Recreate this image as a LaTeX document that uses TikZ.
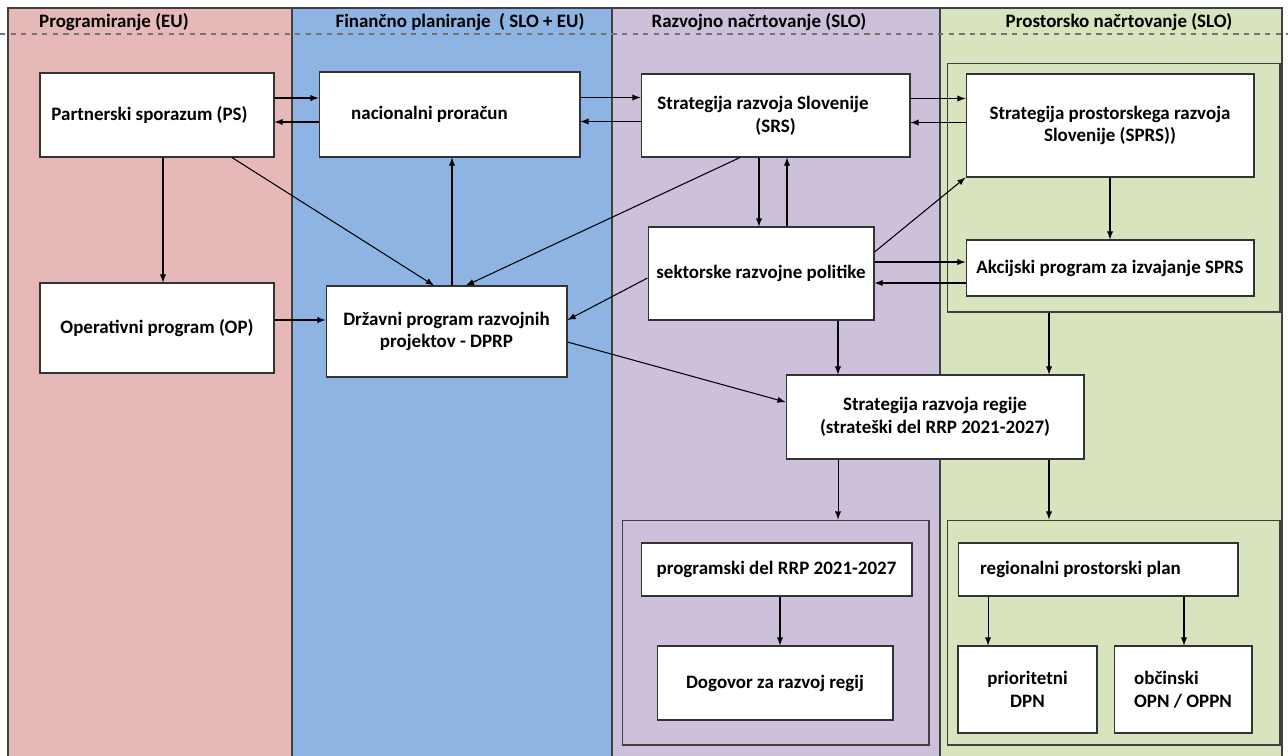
\documentclass[tikz,border=0pt]{standalone}
\usepackage{fontspec}
\setmainfont{Carlito}
\definecolor{roza}{HTML}{E6B9B8}
\definecolor{modra}{HTML}{8DB4E2}
\definecolor{vijola}{HTML}{CCC0DA}
\definecolor{zelena}{HTML}{D7E4BD}
\begin{document}
\begin{tikzpicture}[x=0.02cm,y=-0.02cm,>=latex,
  blok/.style={draw=black!80,fill=white,line width=0.6pt,inner sep=0pt,align=center,
    font=\bfseries\fontsize{10.8}{13}\selectfont},
  okvir/.style={draw=black!75,line width=0.6pt,inner sep=0pt},
  glava/.style={inner sep=0pt,font=\bfseries\fontsize{10.8}{13}\selectfont},
  pus/.style={->,line width=0.6pt}]
\useasboundingbox (0,0) rectangle (1288,755);
\foreach \xa/\xb/\barva in {8/292/roza,292/612/modra,612/940/vijola,940/1282/zelena}{\draw[okvir,fill=\barva](\xa,8) rectangle (\xb,760);}
\draw[black!55,dashed,line width=0.6pt](0,34)--(1288,34);
\node[glava] (h1) at (114,22) {Programiranje (EU)};
\node[glava] (h2) at (460,22) {Finančno planiranje~ ( SLO + EU)};
\node[glava] (h3) at (759,22) {Razvojno načrtovanje (SLO)};
\node[glava] (h4) at (1119,22) {Prostorsko načrtovanje (SLO)};
% okvirji
\node[okvir,minimum width=6.66cm,minimum height=4.98cm] (prostor) at (1113.5,187.5) {};
\node[okvir,minimum width=6.14cm,minimum height=4.5cm] (rrp) at (775.5,632.5) {};
\node[okvir,minimum width=6.66cm,minimum height=4.5cm] (rpp) at (1113.5,632.5) {};
% bloki
\node[blok,minimum width=4.68cm,minimum height=1.68cm] (ps) at (157,115) {Partnerski sporazum (PS)\hspace*{0.3cm}};
\node[blok,minimum width=5.22cm,minimum height=1.70cm] (np) at (449.5,114.5) {nacionalni proračun\hspace*{0.8cm}};
\node[blok,minimum width=5.38cm,minimum height=1.66cm] (srs) at (775.5,115.5) {Strategija razvoja Slovenije\hspace*{0.5cm}\\(SRS)};
\node[blok,minimum width=5.76cm,minimum height=2.06cm] (sprs) at (1110,125.5) {Strategija prostorskega razvoja\\Slovenije (SPRS))};
\node[blok,minimum width=5.76cm,minimum height=1.12cm] (akc) at (1110,268) {Akcijski program za izvajanje SPRS};
\node[blok,minimum width=4.52cm,minimum height=1.86cm] (sekt) at (761,273.5) {sektorske razvojne politike};
\node[blok,minimum width=4.68cm,minimum height=1.80cm] (op) at (157,328) {Operativni program (OP)};
\node[blok,minimum width=4.82cm,minimum height=1.82cm] (dprp) at (446.5,331.5) {Državni program razvojnih\\projektov - DPRP};
\node[blok,minimum width=5.96cm,minimum height=1.68cm] (srr) at (935,417) {Strategija razvoja regije\\(strateški del RRP 2021-2027)};
\node[blok,minimum width=5.42cm,minimum height=1.06cm] (prog) at (776.5,569.5) {programski del RRP 2021-2027};
\node[blok,minimum width=4.72cm,minimum height=1.48cm] (dog) at (775,683) {Dogovor za razvoj regij};
\node[blok,minimum width=5.60cm,minimum height=1.06cm] (reg) at (1098,569.5) {regionalni prostorski plan\hspace*{0.7cm}};
\node[blok,minimum width=2.78cm,minimum height=1.74cm] (pri) at (1027.5,689.5) {prioritetni\\DPN};
\node[blok,minimum width=2.76cm,minimum height=1.74cm,align=left] (obc) at (1183,689.5) {občinski\\OPN / OPPN};
% vodoravne puscice
\foreach \a/\b in {ps/np,np/srs,srs/sprs}{
\draw[pus]([yshift=0.34cm]\a.east)--([yshift=0.34cm]\a.east -| \b.west);
\draw[pus]([yshift=-0.14cm]\a.east -| \b.west)--([yshift=-0.14cm]\a.east);}
\draw[pus]([yshift=0.23cm]sekt.east)--([yshift=0.23cm]sekt.east -| akc.west);
\draw[pus]([yshift=-0.19cm]sekt.east -| akc.west)--([yshift=-0.19cm]sekt.east);
\draw[pus]([yshift=0.16cm]op.east)--([yshift=0.16cm]op.east -| dprp.west);
% navpicne puscice
\draw[pus]([xshift=0.12cm]ps.south)--([xshift=0.12cm]ps.south |- op.north);
\draw[pus]([xshift=0.11cm]dprp.north)--([xshift=0.11cm]dprp.north |- np.south);
\draw[pus]([xshift=-0.33cm]srs.south)--([xshift=-0.33cm]srs.south |- sekt.north);
\draw[pus]([xshift=0.23cm]srs.south |- sekt.north)--([xshift=0.23cm]srs.south);
\draw[pus](sprs)--(akc);
\draw[pus]([xshift=1.54cm]sekt.south)--([xshift=1.54cm]sekt.south |- srr.north);
\draw[pus]([xshift=-1.29cm]prostor.south)--([xshift=-1.29cm]prostor.south |- srr.north);
\draw[pus]([xshift=-1.94cm]srr.south)--([xshift=-1.94cm]srr.south |- rrp.north);
\draw[pus]([xshift=2.28cm]srr.south)--([xshift=2.28cm]srr.south |- rpp.north);
\draw[pus]([xshift=0.07cm]prog.south)--([xshift=0.07cm]prog.south |- dog.north);
\draw[pus]([xshift=-2.2cm]reg.south)--([xshift=-2.2cm]reg.south |- pri.north);
\draw[pus]([xshift=1.72cm]reg.south)--([xshift=1.72cm]reg.south |- obc.north);
% posevne puscice
\draw[pus]([xshift=1.5cm]ps.south)--([xshift=-0.25cm]dprp.north);
\draw[pus]([xshift=-0.71cm]srs.south)--([xshift=0.39cm]dprp.north);
\draw[pus]([yshift=-0.09cm]sekt.west)--([yshift=0.23cm]dprp.east);
\draw[pus]([yshift=0.43cm]sekt.east)--(sprs.south west);
\draw[pus]([yshift=-0.21cm]dprp.east)--([yshift=0.3cm]srr.west);
\end{tikzpicture}
\end{document}
